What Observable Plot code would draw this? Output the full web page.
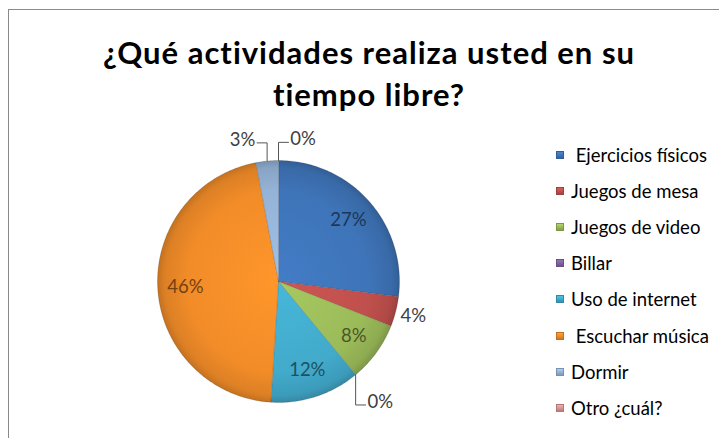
<!DOCTYPE html>
<html>
<head>
<meta charset="utf-8">
<script src="https://cdn.jsdelivr.net/npm/d3@7"></script>
<script src="https://cdn.jsdelivr.net/npm/@observablehq/plot@0.6"></script>
<style>
  body { margin: 0; background: #fff; }
  #wrap { position: relative; width: 719px; height: 438px; overflow: hidden; background: #fff; font-family: Lato, "Open Sans", sans-serif; }
  #frame { position: absolute; left: 8px; top: 9px; width: 900px; height: 600px; border: 1px solid #8a8a8a; }
  #chart { position: absolute; left: 0; top: 0; }
  #title { position: absolute; left: 9px; top: 31px; width: 720px; text-align: center; font-weight: bold; font-size: 31px; letter-spacing: 1px; line-height: 42px; color: #000; }
  #legend { position: absolute; left: 556px; top: 137px; }
  .row { height: 36.1px; display: flex; align-items: center; font-size: 18.5px; color: #000; white-space: pre; }
  .sw { width: 8px; height: 8px; margin-right: 7px; box-sizing: border-box; }
</style>
</head>
<body>
<div id="wrap">
  <div id="frame"></div>
  <div id="chart"></div>
  <div id="title">¿Qué actividades realiza usted en su<br>tiempo libre?</div>
  <div id="legend"></div>
</div>
<script>
const categories = [" Ejercicios físicos", "Juegos de mesa", "Juegos de video", "Billar", "Uso de internet", " Escuchar música", "Dormir", "Otro ¿cuál?"];
const values = [27, 4, 8, 0, 12, 46, 3, 0];
const colors = ["#3E74B8", "#C0504D", "#9BBB59", "#8064A2", "#42AACB", "#F28C28", "#95B3D7", "#D99694"];

const arcs = d3.pie().sort(null).value(d => d)(values);
const gradIds = categories.map((c, i) => `url(#g${i})`);

// slice polygons (unit circle coordinates)
const poly = [];
arcs.forEach((a, i) => {
  if (values[i] <= 0) return;
  const cat = categories[i];
  const n = Math.max(2, Math.ceil((a.endAngle - a.startAngle) / (Math.PI / 180)));
  poly.push({cat, x: 0, y: 0});
  for (let k = 0; k <= n; k++) {
    const t = a.startAngle + (a.endAngle - a.startAngle) * k / n;
    poly.push({cat, x: Math.sin(t), y: Math.cos(t)});
  }
});

// labels
const labelMarks = [];
const leaders = [];
arcs.forEach((a, i) => {
  const v = values[i];
  const m = (a.startAngle + a.endAngle) / 2;
  const sx = Math.sin(m), sy = Math.cos(m);
  const text = v + "%";
  if (v >= 6) {
    labelMarks.push(Plot.text([{x: sx * 0.77, y: sy * 0.77, t: text}], {
      x: "x", y: "y", text: "t", fill: d3.color(colors[i]).darker(2.1).formatHex(), fontSize: 18.5, textAnchor: "middle"
    }));
  } else if (v >= 3.5) {
    labelMarks.push(Plot.text([{x: sx * 1.15, y: sy * 1.15, t: text}], {
      x: "x", y: "y", text: "t", fill: "#404040", fontSize: 18.5, textAnchor: "middle"
    }));
  } else {
    const up = sy > 0;
    const right = sx > -1e-6;
    const ly = sy + (up ? 0.15 : -0.25);
    const lx = sx + (right ? 0.083 : -0.083);
    leaders.push({cat: categories[i], x: sx, y: sy}, {cat: categories[i], x: sx, y: ly}, {cat: categories[i], x: lx, y: ly});
    labelMarks.push(Plot.text([{x: lx + (right ? 0.015 : -0.015), y: ly, t: text}], {
      x: "x", y: "y", text: "t", fill: "#404040", fontSize: 18.5, dy: -3, textAnchor: right ? "start" : "end"
    }));
  }
});

const svg = Plot.plot({
  width: 719,
  height: 438,
  marginLeft: 157,
  marginRight: 320,
  marginTop: 160,
  marginBottom: 36,
  x: {domain: [-1, 1], axis: null},
  y: {domain: [-1, 1], axis: null},
  color: {domain: categories, range: gradIds},
  style: {background: "transparent", fontFamily: "Lato, 'Open Sans', sans-serif", fontSize: "18.5px"},
  marks: [
    Plot.line(poly, {x: "x", y: "y", z: "cat", fill: "cat", stroke: "#000", strokeOpacity: 0.18, strokeWidth: 0.8, curve: "linear-closed"}),
    Plot.line(leaders, {x: "x", y: "y", z: "cat", stroke: "#555", strokeWidth: 1}),
    ...labelMarks
  ]
});

// gradients
const xs = svg.scale("x"), ys = svg.scale("y");
const cx = xs.apply(0), cy = ys.apply(0), r = xs.apply(1) - xs.apply(0);
const defs = d3.select(svg).insert("defs", ":first-child");
colors.forEach((c, i) => {
  const g = defs.append("radialGradient").attr("id", `g${i}`)
    .attr("gradientUnits", "userSpaceOnUse").attr("cx", cx).attr("cy", cy).attr("r", r);
  const base = d3.color(c);
  g.append("stop").attr("offset", "0").attr("stop-color", base.brighter(0.2).formatHex());
  g.append("stop").attr("offset", "0.75").attr("stop-color", base.formatHex());
  g.append("stop").attr("offset", "0.94").attr("stop-color", base.darker(0.25).formatHex());
  g.append("stop").attr("offset", "1").attr("stop-color", base.darker(0.6).formatHex());
});
document.getElementById("chart").appendChild(svg);

// legend
const legend = d3.select("#legend");
categories.forEach((c, i) => {
  const row = legend.append("div").attr("class", "row");
  const base = d3.color(colors[i]);
  row.append("div").attr("class", "sw")
    .style("background", `linear-gradient(${base.brighter(0.4).formatHex()}, ${base.formatHex()} 50%, ${base.darker(0.5).formatHex()})`)
    .style("border", `1px solid ${base.darker(0.6).formatHex()}`);
  row.append("span").text(c);
});
</script>
</body>
</html>
